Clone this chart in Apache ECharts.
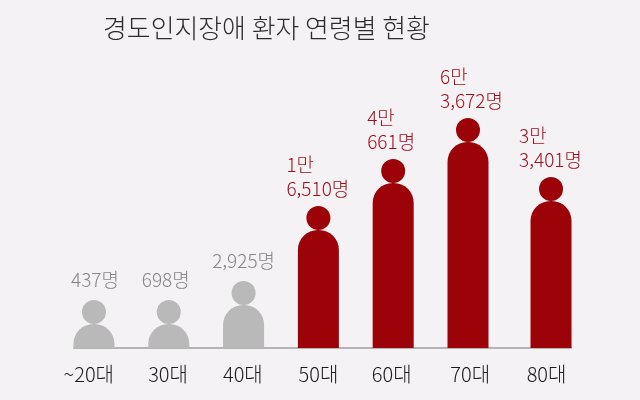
<!DOCTYPE html>
<html lang="ko">
<head>
<meta charset="utf-8">
<style>html,body{margin:0;padding:0;background:#f4f2f4}#c{width:640px;height:400px}</style>
<script src="https://cdn.jsdelivr.net/npm/echarts@6/dist/echarts.min.js"></script>
</head>
<body>
<div id="c"></div>
<script>
const categories = ['~20대','30대','40대','50대','60대','70대','80대'];
const patients = [437,698,2925,16510,40661,63672,33401];
const figureHeights = [24,24,43,118,165,206,147];
const barSlots = [0,1,2,3,4,5,6.11];
const labelSlots = [-0.07,0.99,1.99,3,3.98,5.03,6.05];
const labelShiftX = [1,-3,0,-32,-26,-28,-32];
const highlighted = [false,false,false,true,true,true,true];

const RED = '#9b0308', GREY = '#b9b9b9', FONT = '"Noto Sans CJK KR","Noto Sans",sans-serif';
const fmt = v => {
  const man = Math.floor(v / 10000), rest = v % 10000;
  const r = rest.toLocaleString('en-US') + '명';
  return man ? man + '만\n' + r : r;
};
const chart = echarts.init(document.getElementById('c'), null, {renderer:'canvas'});
chart.setOption({
  backgroundColor:'#f4f2f4',
  animation:false,
  title:{text:'경도인지장애 환자 연령별 현황',left:98,top:10,textStyle:{fontFamily:FONT,fontSize:25.9,fontWeight:300,color:'#2c2c2c'}},
  grid:{left:74,right:69,top:48,bottom:52},
  xAxis:{type:'value',min:-0.267,max:6.377,splitLine:{show:false},
    axisLine:{show:true,onZero:false,lineStyle:{color:'#b4b4b4',width:2}},
    axisTick:{show:false},
    axisLabel:{customValues:labelSlots,margin:16,fontFamily:FONT,fontSize:20,fontWeight:300,color:'#1c1c1c',
      formatter:(v)=>categories[labelSlots.indexOf(v)]||''}},
  yAxis:{type:'value',min:0,max:300,show:false},
  series:[
    {type:'bar',barWidth:41,z:2,
     data:figureHeights.map((h,i)=>({value:[barSlots[i],h],
       itemStyle:{color:highlighted[i]?RED:GREY,borderRadius:[20,20,0,0]}}))},
    {type:'scatter',symbol:'circle',symbolSize:24,z:3,
     data:figureHeights.map((h,i)=>({value:[barSlots[i],h+12],
       itemStyle:{color:highlighted[i]?RED:GREY,opacity:1},
       label:{show:true,position:'top',distance:highlighted[i]?5:8,formatter:fmt(patients[i]),
         align:highlighted[i]?'left':'center',offset:[labelShiftX[i],0],
         fontFamily:FONT,fontSize:19,fontWeight:300,lineHeight:24,
         color:highlighted[i]?'#a0101a':'#868686'}}))}
  ]
});
</script>
</body>
</html>
